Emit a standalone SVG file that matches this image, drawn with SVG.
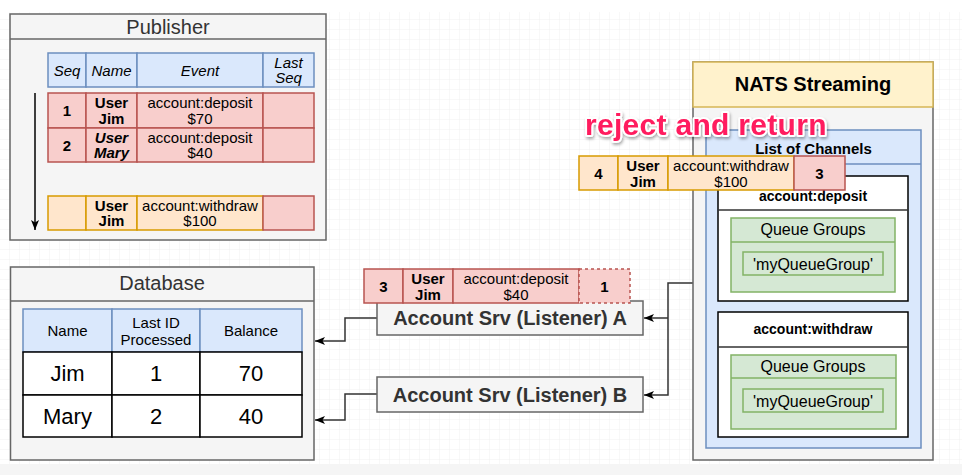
<svg xmlns="http://www.w3.org/2000/svg" width="962" height="475" viewBox="0 0 962 475">
<style>
text{font-family:"Liberation Sans",Arial,sans-serif;fill:#000}
.t{font-size:15px;text-anchor:middle}
.b{font-weight:bold}
.i{font-style:italic}
.box{fill:#f5f5f5;stroke:#666;stroke-width:1.5}
.hd{fill:#dae8fc;stroke:#6c8ebf;stroke-width:1.5}
.rd{fill:#f8cecc;stroke:#b85450;stroke-width:1.5}
.or{fill:#ffe6cc;stroke:#d79b00;stroke-width:1.5}
.gr{fill:#d5e8d4;stroke:#82b366;stroke-width:1.5}
.wh{fill:#fff;stroke:#000;stroke-width:1.5}
.title{font-size:20px;text-anchor:middle;fill:#333}
.srv{font-size:20px;font-weight:bold;text-anchor:middle;fill:#333}
.big{font-size:22px;text-anchor:middle}
.conn{fill:none;stroke:#333;stroke-width:1.5}
</style>
<defs>
<pattern id="grid" width="10" height="10" patternUnits="userSpaceOnUse">
<path d="M10,0 V10 M0,10 H10" fill="none" stroke="#f0f0f0" stroke-width="1"/>
</pattern>
<marker id="arr" markerWidth="10" markerHeight="8" refX="10" refY="4" orient="auto" markerUnits="userSpaceOnUse">
<path d="M0,0 L10,4 L0,8 L2.5,4 Z" fill="#000"/>
</marker>
<filter id="sh" x="-10%" y="-30%" width="120%" height="160%">
<feDropShadow dx="1" dy="2" stdDeviation="1.5" flood-color="#000" flood-opacity="0.35"/>
</filter>
</defs>
<rect width="962" height="475" fill="#fff"/>
<rect y="12" width="962" height="452" fill="url(#grid)"/>
<rect y="464" width="962" height="11" fill="#f5f5f5"/>

<g id="publisher">
<rect class="box" x="10" y="14" width="316" height="226"/>
<line x1="10" y1="39" x2="326" y2="39" stroke="#666" stroke-width="1.5"/>
<text class="title" x="168" y="34">Publisher</text>
<rect class="hd" x="48" y="53" width="38" height="34"/>
<rect class="hd" x="86" y="53" width="51" height="34"/>
<rect class="hd" x="137" y="53" width="126" height="34"/>
<rect class="hd" x="263" y="53" width="51" height="34"/>
<text class="t i" x="67" y="75.5">Seq</text>
<text class="t i" x="111.5" y="75.5">Name</text>
<text class="t i" x="200" y="75.5">Event</text>
<text class="t i" x="288.5" y="67.5">Last</text>
<text class="t i" x="288.5" y="83">Seq</text>
<rect class="rd" x="48" y="93" width="38" height="35"/>
<rect class="rd" x="86" y="93" width="51" height="35"/>
<rect class="rd" x="137" y="93" width="126" height="35"/>
<rect class="rd" x="263" y="93" width="51" height="35"/>
<text class="t b" x="67" y="116">1</text>
<text class="t b" x="111.5" y="108">User</text>
<text class="t b" x="111.5" y="123.5">Jim</text>
<text class="t" x="200" y="108">account:deposit</text>
<text class="t" x="200" y="123.5">$70</text>
<rect class="rd" x="48" y="128" width="38" height="34"/>
<rect class="rd" x="86" y="128" width="51" height="34"/>
<rect class="rd" x="137" y="128" width="126" height="34"/>
<rect class="rd" x="263" y="128" width="51" height="34"/>
<text class="t b" x="67" y="150.5">2</text>
<text class="t b i" x="111.5" y="142.5">User</text>
<text class="t b i" x="111.5" y="158">Mary</text>
<text class="t" x="200" y="142.5">account:deposit</text>
<text class="t" x="200" y="158">$40</text>
<rect class="or" x="48" y="196" width="38" height="34"/>
<rect class="or" x="86" y="196" width="51" height="34"/>
<rect class="or" x="137" y="196" width="126" height="34"/>
<rect class="rd" x="263" y="196" width="51" height="34"/>
<text class="t b" x="111.5" y="210.5">User</text>
<text class="t b" x="111.5" y="226">Jim</text>
<text class="t" x="200" y="210.5">account:withdraw</text>
<text class="t" x="200" y="226">$100</text>
<line x1="35" y1="93" x2="35" y2="230" stroke="#000" stroke-width="1.5" marker-end="url(#arr)"/>
</g>

<g id="database">
<rect class="box" x="10.5" y="267" width="303.5" height="193"/>
<line x1="10.5" y1="301" x2="314" y2="301" stroke="#666" stroke-width="1.5"/>
<text class="title" x="162" y="290">Database</text>
<rect class="hd" x="23" y="309" width="89" height="43"/>
<rect class="hd" x="112" y="309" width="88" height="43"/>
<rect class="hd" x="200" y="309" width="102" height="43"/>
<text class="t" x="67.5" y="336">Name</text>
<text class="t" x="156" y="328">Last ID</text>
<text class="t" x="156" y="345">Processed</text>
<text class="t" x="251" y="336">Balance</text>
<rect class="wh" x="23" y="352" width="89" height="43"/>
<rect class="wh" x="112" y="352" width="88" height="43"/>
<rect class="wh" x="200" y="352" width="102" height="43"/>
<text class="big" x="67.5" y="381">Jim</text>
<text class="big" x="156" y="381">1</text>
<text class="big" x="251" y="381">70</text>
<rect class="wh" x="23" y="395" width="89" height="42"/>
<rect class="wh" x="112" y="395" width="88" height="42"/>
<rect class="wh" x="200" y="395" width="102" height="42"/>
<text class="big" x="67.5" y="424">Mary</text>
<text class="big" x="156" y="424">2</text>
<text class="big" x="251" y="424">40</text>
</g>

<g id="connectors">
<path class="conn" d="M377,318 H345 V341 H315" marker-end="url(#arr)"/>
<path class="conn" d="M377,394 H345 V420 H315" marker-end="url(#arr)"/>
<path class="conn" d="M693,283 H668 V395 H644" marker-end="url(#arr)"/>
<path class="conn" d="M668,318 H644" marker-end="url(#arr)"/>
</g>

<g id="account-srv-a">
<rect class="box" x="377" y="301" width="266" height="34"/>
<text class="srv" x="510" y="325">Account Srv (Listener) A</text>
</g>

<g id="account-srv-b">
<rect class="box" x="377" y="377" width="266" height="35"/>
<text class="srv" x="510" y="401.5">Account Srv (Listener) B</text>
</g>

<g id="event-3">
<rect class="rd" x="364" y="269" width="39" height="34"/>
<rect class="rd" x="403" y="269" width="50" height="34"/>
<rect class="rd" x="453" y="269" width="126" height="34"/>
<rect x="579" y="269" width="51" height="34" fill="#f8cecc" stroke="#b85450" stroke-width="1.5" stroke-dasharray="3,3"/>
<text class="t b" x="383.5" y="291.5">3</text>
<text class="t b" x="428" y="284">User</text>
<text class="t b" x="428" y="299.5">Jim</text>
<text class="t" x="516" y="284">account:deposit</text>
<text class="t" x="516" y="299.5">$40</text>
<text class="t b" x="604.5" y="291.5">1</text>
</g>

<g id="nats">
<rect class="box" x="693" y="62" width="240" height="398"/>
<rect x="693" y="62" width="240" height="45" fill="#fff2cc" stroke="#d6b656" stroke-width="1.5"/>
<text x="813" y="91" style="font-size:20px;font-weight:bold;text-anchor:middle">NATS Streaming</text>
<rect class="hd" x="706" y="130" width="215" height="318"/>
<line x1="706" y1="164" x2="921" y2="164" stroke="#6c8ebf" stroke-width="1.5"/>
<text x="813.5" y="154" style="font-size:15px;font-weight:bold;text-anchor:middle">List of Channels</text>
</g>

<g id="channel-deposit">
<rect class="wh" x="718" y="176" width="190" height="125" stroke="#333"/>
<line x1="718" y1="210" x2="908" y2="210" stroke="#333" stroke-width="1.5"/>
<text x="813" y="201" style="font-size:14px;font-weight:bold;text-anchor:middle">account:deposit</text>
<rect class="gr" x="731" y="218" width="164" height="74"/>
<line x1="731" y1="242" x2="895" y2="242" stroke="#82b366" stroke-width="1.5"/>
<text x="813" y="235" style="font-size:16px;text-anchor:middle">Queue Groups</text>
<rect class="gr" x="743" y="252" width="140" height="23"/>
<text x="813" y="270" style="font-size:16px;text-anchor:middle">'myQueueGroup'</text>
</g>

<g id="channel-withdraw">
<rect class="wh" x="718" y="312" width="190" height="125" stroke="#333"/>
<line x1="718" y1="347" x2="908" y2="347" stroke="#333" stroke-width="1.5"/>
<text x="813" y="334" style="font-size:14px;font-weight:bold;text-anchor:middle">account:withdraw</text>
<rect class="gr" x="731" y="355" width="165" height="74"/>
<line x1="731" y1="378" x2="896" y2="378" stroke="#82b366" stroke-width="1.5"/>
<text x="813" y="372" style="font-size:16px;text-anchor:middle">Queue Groups</text>
<rect class="gr" x="743" y="389" width="140" height="23"/>
<text x="813" y="407" style="font-size:16px;text-anchor:middle">'myQueueGroup'</text>
</g>

<g id="event-4">
<rect class="or" x="579" y="156" width="39" height="34"/>
<rect class="or" x="618" y="156" width="50" height="34"/>
<rect class="or" x="668" y="156" width="126" height="34"/>
<rect class="rd" x="794" y="156" width="51" height="34"/>
<text class="t b" x="598.5" y="178.5">4</text>
<text class="t b" x="643" y="171">User</text>
<text class="t b" x="643" y="186.5">Jim</text>
<text class="t" x="731" y="171">account:withdraw</text>
<text class="t" x="731" y="186.5">$100</text>
<text class="t b" x="819.5" y="178.5">3</text>
</g>

<g id="reject-label">
<text x="585" y="135" filter="url(#sh)" style="font-size:30px;font-weight:bold;fill:#ff1d5e;stroke:#fff;stroke-width:4;stroke-linejoin:round;paint-order:stroke;letter-spacing:0.3px">reject and return</text>
</g>
</svg>
